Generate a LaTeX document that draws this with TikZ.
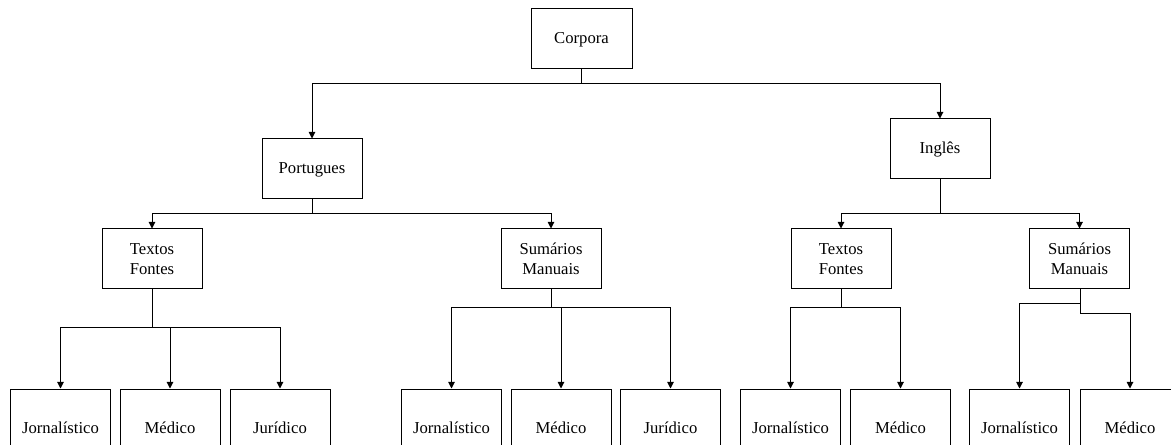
\documentclass[tikz,border=0pt]{standalone}
\usepackage{fontspec}
\setmainfont{Liberation Serif}
\usetikzlibrary{arrows.meta}
\begin{document}
\begin{tikzpicture}[x=0.75pt,y=-0.75pt,
  box/.style={draw=black, line width=0.75pt, inner sep=0pt, minimum width=75pt, minimum height=45pt, align=center, font=\fontsize{12.5}{14.8}\selectfont},
  onebox/.style={box, text height=0.8em, text depth=0.1em},
  leaf/.style={onebox, minimum height=60pt},
  conn/.style={draw=black, line width=0.75pt},
  arr/.style={conn, -{Triangle[length=5pt,width=5pt]}}
]
\path[use as bounding box, clip] (0,0) rectangle (1171,445);
% nodes
\node[onebox, minimum width=75.75pt] (corp) at (581.5,39) {Corpora};
\node[onebox] (port) at (312,169) {Portugues};
\node[onebox] (ing) at (940,149) {Inglês};
\node[box] (tfpt) at (152,259) {Textos\\Fontes};
\node[box] (smpt) at (551,259) {Sumários\\Manuais};
\node[box] (tfen) at (841,259) {Textos\\Fontes};
\node[box] (smen) at (1079.5,259) {Sumários\\Manuais};
\node[leaf] (a1) at (60.5,429) {Jornalístico};
\node[leaf] (a2) at (170,429) {Médico};
\node[leaf] (a3) at (280,429) {Jurídico};
\node[leaf] (b1) at (451.5,429) {Jornalístico};
\node[leaf] (b2) at (561,429) {Médico};
\node[leaf] (b3) at (670.5,429) {Jurídico};
\node[leaf] (c1) at (790.5,429) {Jornalístico};
\node[leaf] (c2) at (900.5,429) {Médico};
\node[leaf] (d1) at (1019.5,429) {Jornalístico};
\node[leaf] (d2) at (1130,429) {Médico};
% junctions
\coordinate (j0) at (581.5,84);
\coordinate (j1) at (312,214);
\coordinate (j2) at (940,214);
\coordinate (j3) at (152,328);
\coordinate (j4) at (551,308);
\coordinate (j5) at (841,308);
\coordinate (j6a) at (1080,304);
\coordinate (j6b) at (1080,314);
% connectors
\draw[conn] (corp.south) -- (j0);
\draw[arr] (j0) -| (port.north);
\draw[arr] (j0) -| (ing.north);
\draw[conn] (port.south) -- (j1);
\draw[arr] (j1) -| (tfpt.north);
\draw[arr] (j1) -| (smpt.north);
\draw[conn] (ing.south) -- (j2);
\draw[arr] (j2) -| (tfen.north);
\draw[arr] (j2) -| (smen.north);
\draw[conn] (tfpt.south) -- (j3);
\draw[arr] (j3) -| (a1.north);
\draw[arr] (j3) -| (a2.north);
\draw[arr] (j3) -| (a3.north);
\draw[conn] (smpt.south) -- (j4);
\draw[arr] (j4) -| (b1.north);
\draw[arr] (j4) -| (b2.north);
\draw[arr] (j4) -| (b3.north);
\draw[conn] (tfen.south) -- (j5);
\draw[arr] (j5) -| (c1.north);
\draw[arr] (j5) -| (c2.north);
\draw[conn] (smen.south -| j6b) -- (j6b);
\draw[arr] (j6a) -| (d1.north);
\draw[arr] (j6b) -| (d2.north);
\end{tikzpicture}
\end{document}
